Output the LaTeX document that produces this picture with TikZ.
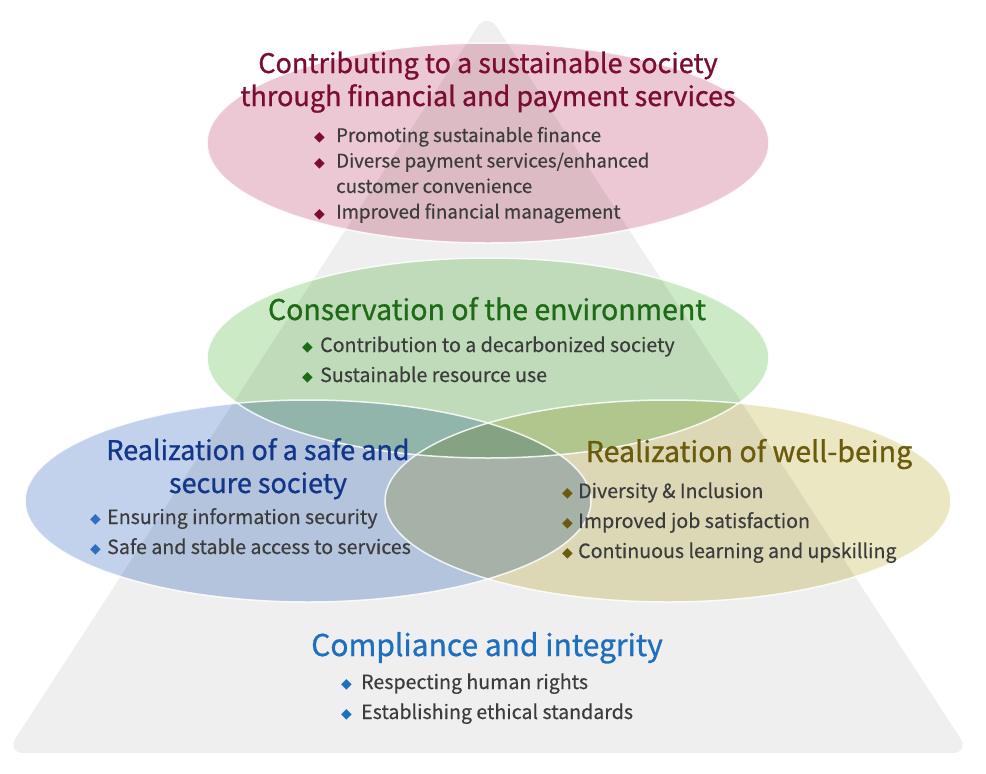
\documentclass[tikz,border=0pt]{standalone}
\usepackage{fontspec}
\setmainfont{Noto Sans CJK JP}[UprightFeatures={FakeBold=0.4}]
\newfontfamily\titulos{Noto Sans CJK JP}[UprightFeatures={FakeBold=0.9}]
\newfontfamily\simbolos{DejaVu Sans}
\usepackage{pgf,tikz}
\usetikzlibrary{positioning}
\definecolor{piramide}{HTML}{EFEFEF}
\definecolor{rosa}{HTML}{EBC8D3}
\definecolor{verde}{HTML}{CCEAC6}
\definecolor{azul}{HTML}{C2D2EC}
\definecolor{amarillo}{HTML}{EBE7C2}
\definecolor{granate}{HTML}{7B0D32}
\definecolor{verdeosc}{HTML}{1E6B17}
\definecolor{azulosc}{HTML}{12378A}
\definecolor{azulmed}{HTML}{2E6FC0}
\definecolor{oliva}{HTML}{6B5B0C}
\definecolor{azulcla}{HTML}{1D6FC0}
\definecolor{texto}{HTML}{3C3C3C}
\tikzstyle{circulo} = [blend mode=multiply]
\tikzstyle{borde} = [draw=white, line width=1.5pt, opacity=0.85]
\tikzstyle{titulo} = [anchor=base, inner sep=0pt, font=\titulos\fontsize{27}{33}\selectfont]
\tikzstyle{lista} = [anchor=base west, inner sep=0pt, text=texto, font=\fontsize{19.6}{30}\selectfont]
\newcommand{\rombo}[2]{\makebox[#2][l]{\raisebox{0.3pt}{\textcolor{#1}{\simbolos\fontsize{14}{14}\selectfont ◆}}}}

\begin{document}
\begin{tikzpicture}[x=1pt,y=-1pt]
	\useasboundingbox (0,0) rectangle (986,774);
	% piramide
	\fill[piramide, rounded corners=18pt] (487,12) -- (970,753) -- (6,753) -- cycle;
	% circulos
	\coordinate (c1) at (488,143);
	\coordinate (c2) at (488,358);
	\coordinate (c3) at (308,501);
	\coordinate (c4) at (668,501);
	\fill[circulo, rosa] (c1) ellipse [x radius=281pt, y radius=100pt];
	\fill[circulo, verde] (c2) ellipse [x radius=281pt, y radius=100pt];
	\fill[circulo, azul] (c3) ellipse [x radius=283pt, y radius=101pt];
	\fill[circulo, amarillo] (c4) ellipse [x radius=283pt, y radius=101pt];
	\draw[borde] (c1) ellipse [x radius=281pt, y radius=100pt];
	\draw[borde] (c2) ellipse [x radius=281pt, y radius=100pt];
	\draw[borde] (c3) ellipse [x radius=283pt, y radius=101pt];
	\draw[borde] (c4) ellipse [x radius=283pt, y radius=101pt];

	\node[titulo, text=granate] (finanzas) at (488,73) {\begin{tabular}[t]{@{}c@{}}
			Contributing to a sustainable society\\
			through financial and payment services
		\end{tabular}};
	\node[lista, font=\fontsize{18.7}{25.5}\selectfont] (finanzaslista) at (314,142) {\begin{tabular}[t]{@{}l@{}l@{}}
			\rombo{granate}{22pt} & Promoting sustainable finance\\
			\rombo{granate}{22pt} & Diverse payment services/enhanced\\
			& customer convenience\\
			\rombo{granate}{22pt} & Improved financial management
		\end{tabular}};

	\node[titulo, text=verdeosc, font=\titulos\fontsize{28.5}{33}\selectfont] (ambiente) at (487,320) {Conservation of the environment};
	\node[lista] (ambientelista) at (302,352) {\begin{tabular}[t]{@{}l@{}l@{}}
			\rombo{verdeosc}{18pt} & Contribution to a decarbonized society\\
			\rombo{verdeosc}{18pt} & Sustainable resource use
		\end{tabular}};

	\node[titulo, text=azulosc] (seguridad) at (258,460) {\begin{tabular}[t]{@{}c@{}}
			Realization of a safe and\\
			secure society
		\end{tabular}};
	\node[lista] (seguridadlista) at (90,524) {\begin{tabular}[t]{@{}l@{}l@{}}
			\rombo{azulmed}{17pt} & Ensuring information security\\
			\rombo{azulmed}{17pt} & Safe and stable access to services
		\end{tabular}};

	\node[titulo, text=oliva, font=\titulos\fontsize{28.6}{33}\selectfont] (bienestar) at (749,462) {Realization of well-being};
	\node[lista] (bienestarlista) at (562,498) {\begin{tabular}[t]{@{}l@{}l@{}}
			\rombo{oliva}{16pt} & Diversity \& Inclusion\\
			\rombo{oliva}{16pt} & Improved job satisfaction\\
			\rombo{oliva}{16pt} & Continuous learning and upskilling
		\end{tabular}};

	\node[titulo, text=azulcla, font=\titulos\fontsize{30}{33}\selectfont] (integridad) at (487,656) {Compliance and integrity};
	\node[lista] (integridadlista) at (341,689) {\begin{tabular}[t]{@{}l@{}l@{}}
			\rombo{azulcla}{20pt} & Respecting human rights\\
			\rombo{azulcla}{20pt} & Establishing ethical standards
		\end{tabular}};
\end{tikzpicture}
\end{document}
